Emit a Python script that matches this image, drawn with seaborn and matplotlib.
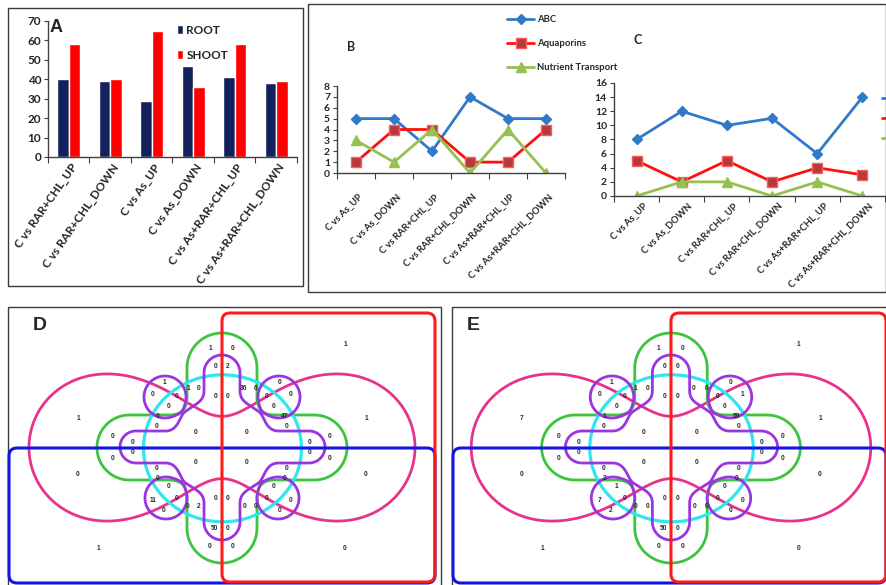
import numpy as np
import pandas as pd
import matplotlib
matplotlib.use("Agg")
import matplotlib.pyplot as plt
import matplotlib.transforms as mtransforms
from matplotlib.patches import Rectangle, FancyBboxPatch, Ellipse
from matplotlib.font_manager import FontProperties
import seaborn as sns

W, H = 887, 585

sns.set_theme(style="white")
plt.rcParams["font.family"] = ["Lato", "DejaVu Sans"]
NARROW = ["Liberation Sans Narrow", "Lato", "DejaVu Sans"]

# ---------------- data ----------------
bar_groups = ["C vs RAR+CHL_UP", "C vs RAR+CHL_DOWN", "C vs As_UP",
              "C vs As_DOWN", "C vs As+RAR+CHL_UP", "C vs As+RAR+CHL_DOWN"]
root_counts = [40, 39, 29, 47, 41, 38]
shoot_counts = [58, 40, 65, 36, 58, 39]

comparisons = ["C vs As_UP", "C vs As_DOWN", "C vs RAR+CHL_UP",
               "C vs RAR+CHL_DOWN", "C vs As+RAR+CHL_UP", "C vs As+RAR+CHL_DOWN"]
families = ["ABC", "Aquaporins", "Nutrient Transport"]
abc_b = [5, 5, 2, 7, 5, 5]
aqua_b = [1, 4, 4, 1, 1, 4]
nutr_b = [3, 1, 4, 0, 4, 0]
abc_c = [8, 12, 10, 11, 6, 14]
aqua_c = [5, 2, 5, 2, 4, 3]
nutr_c = [0, 2, 2, 0, 2, 0]

# counts of the 63 regions of the six-set diagrams
venn_d = [1, 0, 1, 0, 2, 1, 1, 0, 0, 0, 0, 0, 36, 6, 0, 0, 0, 0, 0, 0, 47,
          1, 1, 0, 0, 0, 0, 0, 0, 0, 0, 0, 0, 0, 0, 0, 0, 0, 0, 0, 0, 0,
          0, 0, 0, 11, 0, 0, 2, 0, 0, 0, 0, 0, 0, 0, 0, 50, 0, 0, 0, 1, 0]
venn_e = [1, 0, 1, 0, 0, 1, 1, 0, 0, 0, 0, 0, 0, 0, 0, 0, 1, 0, 0, 1, 50,
          7, 1, 0, 0, 0, 0, 0, 0, 0, 0, 0, 0, 0, 0, 0, 0, 0, 0, 0, 0, 2,
          0, 1, 0, 7, 0, 0, 0, 0, 0, 0, 0, 0, 0, 2, 0, 50, 0, 0, 0, 1, 0]

# label anchor of each region, relative to the diagram centre (pixels)
region_xy = [(-12, -99), (11, -99), (123, -102), (-6, -80), (6, -80),
             (-58, -64), (-34, -59), (-23, -59), (-69, -52), (-45, -51),
             (-6, -51), (6, -51), (22, -59), (34, -59), (58, -64),
             (45, -51), (69, -52), (-53, -40), (52, -40), (-64, -31),
             (63, -31), (-144, -28), (144, -28), (-65, -20), (65, -20),
             (-26, -14), (25, -14), (-109, -10), (-89, -5), (88, -5),
             (108, -10), (-89, 6), (-109, 11), (88, 6), (108, 11),
             (-26, 15), (25, 15), (-65, 21), (65, 21), (-144, 28),
             (144, 28), (-64, 32), (63, 32), (-53, 40), (52, 40),
             (-69, 53), (-45, 51), (-34, 60), (-23, 60), (-6, 52),
             (6, 52), (23, 60), (34, 60), (45, 51), (69, 53),
             (-58, 64), (58, 64), (-7, 81), (6, 81), (-12, 100),
             (11, 100), (-124, 102), (123, 102)]

# ---------------- figure ----------------
fig = plt.figure(figsize=(W / 100, H / 100), dpi=100)


def px_axes(x0, y0, x1, y1):
    return fig.add_axes([x0 / W, 1 - y1 / H, (x1 - x0) / W, (y1 - y0) / H])


def px_shift(dx, dy):
    return mtransforms.ScaledTranslation(dx / 100, -dy / 100, fig.dpi_scale_trans)


canvas = px_axes(0, 0, W, H)
canvas.set_xlim(0, W)
canvas.set_ylim(H, 0)
canvas.axis("off")

for x0, y0, x1, y1 in [(8, 8, 303, 286), (308, 4, 886, 292),
                       (8, 307, 441, 595), (452, 307, 895, 595)]:
    canvas.add_patch(Rectangle((x0, y0), x1 - x0, y1 - y0, fill=False,
                               edgecolor="#3a3a3a", linewidth=1.0, zorder=1))

AXIS = "#404040"

# ---------------- A: grouped bars ----------------
axA = px_axes(48, 21, 297, 157)
axA.patch.set_alpha(0)
dfA = pd.DataFrame({"comparison": bar_groups * 2,
                    "tissue": ["ROOT"] * 6 + ["SHOOT"] * 6,
                    "genes": root_counts + shoot_counts})
sns.barplot(data=dfA, x="comparison", y="genes", hue="tissue",
            palette={"ROOT": "#13215c", "SHOOT": "#ff0000"}, width=0.56,
            saturation=1, ax=axA)
axA.set_xlim(-0.5, 5.5)
axA.set_ylim(0, 70)
axA.set_yticks(range(0, 71, 10))
axA.set_xlabel("")
axA.set_ylabel("")
for s in ["top", "right"]:
    axA.spines[s].set_visible(False)
for s in ["left", "bottom"]:
    axA.spines[s].set_color(AXIS)
    axA.spines[s].set_linewidth(1.0)
axA.tick_params(axis="y", direction="out", length=3, width=0.8, color=AXIS,
                labelsize=8.5, pad=2, left=True)
axA.set_xticks(np.arange(-0.5, 6.0, 1.0), minor=True)
axA.tick_params(axis="x", which="minor", direction="out", length=4,
                width=0.8, color=AXIS, bottom=True)
axA.tick_params(axis="x", which="major", length=0, pad=3)
axA.set_xticks(range(6))
axA.set_xticklabels(bar_groups, rotation=55, ha="right", va="center",
                    rotation_mode="anchor", fontsize=8.5, fontweight="bold",
                    family=NARROW)
for lbl in axA.get_xticklabels():
    lbl.set_transform(lbl.get_transform() + px_shift(6, 4))
for lbl in axA.get_yticklabels():
    lbl.set_fontweight("bold")
    lbl.set_family(NARROW)
hA, lA = axA.get_legend_handles_labels()
axA.legend(hA, lA, loc="upper left", bbox_to_anchor=(177 / W, 1 - 25 / H),
           bbox_transform=fig.transFigure, frameon=False, handlelength=0.55,
           handleheight=0.8, handletextpad=0.25, labelspacing=1.15,
           borderpad=0, borderaxespad=0,
           prop=FontProperties(family=NARROW, weight="bold", size=8.5))
canvas.text(50, 28, "A", fontsize=13, fontweight="bold", va="center",
            family=["Liberation Sans", "DejaVu Sans"])

# ---------------- B and C: line charts ----------------
line_styles = {
    "ABC": dict(color="#2f7bc9", marker="D", markerfacecolor="#2f7bc9",
                markeredgecolor="#2f7bc9", markersize=5.5),
    "Aquaporins": dict(color="#ff1010", marker="s", markerfacecolor="#b53a3a",
                       markeredgecolor="#ff5a5a", markersize=6.5),
    "Nutrient Transport": dict(color="#95c150", marker="^",
                               markerfacecolor="#95c150",
                               markeredgecolor="#95c150", markersize=6.5),
}


def line_panel(ax, series, ymax, ystep, label_pad, label_dx):
    ax.patch.set_alpha(0)
    for fam, vals in zip(families, series):
        sns.lineplot(x=list(range(6)), y=vals, ax=ax, label=fam,
                     linewidth=2.0, markeredgewidth=1.0, **line_styles[fam])
    ax.set_xlim(-0.5, 5.5)
    ax.set_ylim(0, ymax)
    ax.set_yticks(range(0, ymax + 1, ystep))
    for s in ["top", "right"]:
        ax.spines[s].set_visible(False)
    for s in ["left", "bottom"]:
        ax.spines[s].set_color(AXIS)
        ax.spines[s].set_linewidth(1.0)
    ax.tick_params(axis="y", direction="out", length=3, width=0.8,
                   color=AXIS, labelsize=7.5, pad=2, left=True)
    ax.set_xticks(np.arange(-0.5, 6.0, 1.0), minor=True)
    ax.tick_params(axis="x", which="minor", direction="out", length=4,
                   width=0.8, color=AXIS, bottom=True)
    ax.tick_params(axis="x", which="major", length=0, pad=label_pad)
    ax.set_xticks(range(6))
    ax.set_xticklabels(comparisons, rotation=45, ha="right", va="center",
                       rotation_mode="anchor", fontsize=6.8,
                       fontweight="bold")
    for lbl in ax.get_xticklabels():
        lbl.set_transform(lbl.get_transform() + px_shift(label_dx, 0))
    for lbl in ax.get_yticklabels():
        lbl.set_fontweight("bold")


axB = px_axes(337, 86, 565, 173)
line_panel(axB, [abc_b, aqua_b, nutr_b], 8, 1, 16, 5)
hB, lB = axB.get_legend_handles_labels()
axB.legend(hB, lB, loc="upper left", bbox_to_anchor=(507 / W, 1 - 15 / H),
           bbox_transform=fig.transFigure, frameon=False, handlelength=2.9,
           handletextpad=0.25, labelspacing=1.6, borderpad=0,
           borderaxespad=0, prop=FontProperties(weight="bold", size=6.8))
canvas.text(347, 47, "B", fontsize=9, fontweight="bold", va="center")

axC = px_axes(614, 83, 885, 196)
line_panel(axC, [abc_c, aqua_c, nutr_c], 16, 2, 6, 9)
# the second key starts at the right border; only its line stubs show
hC, _ = axC.get_legend_handles_labels()
axC.legend(hC, [""] * len(hC), loc="upper left",
           bbox_to_anchor=(882 / W, 1 - 94 / H),
           bbox_transform=fig.transFigure, frameon=False, handlelength=2.9,
           handletextpad=0.25, labelspacing=1.2, borderpad=0,
           borderaxespad=0, prop=FontProperties(weight="bold", size=6.8))
canvas.text(634, 40, "C", fontsize=9, fontweight="bold", va="center")

# ---------------- D and E: six-set Venn diagrams ----------------
gx = np.arange(-235, 235.5, 0.5)
gy = np.arange(-155, 155.5, 0.5)
GX, GY = np.meshgrid(gx, gy)


def segment_sdf(x0, y0, x1, y1, r):
    vx, vy = x1 - x0, y1 - y0
    t = np.clip(((GX - x0) * vx + (GY - y0) * vy) / (vx * vx + vy * vy), 0, 1)
    return np.hypot(GX - x0 - t * vx, GY - y0 - t * vy) - r


def circle_sdf(x0, y0, r):
    return np.hypot(GX - x0, GY - y0) - r


def smooth_union(a, b, k):
    h = np.clip(0.5 + 0.5 * (b - a) / k, 0, 1)
    return b * (1 - h) + a * h - k * h * (1 - h)


# two-lobed set: Cassini oval
a2, b2 = 18174.5, 19074.5
yy = (GY - 0.5) / 1.04
peanut = ((GX ** 2 + yy ** 2) ** 2 - 2 * a2 * (GX ** 2 - yy ** 2)
          - (b2 ** 2 - a2 ** 2)) / a2 ** 2

# four-lobed set: rounded cross
green = smooth_union(segment_sdf(-92.5, 0.5, 92.5, 0.5, 32.5),
                     segment_sdf(0, -79, 0, 81, 35), 18)

# eight-lobed set: core with fingers and diagonal blobs
purple = circle_sdf(0, 0, 50)
for part in [segment_sdf(0, 0, 0, -74, 18), segment_sdf(0, 0, 0, 75, 18),
             segment_sdf(0, 0, -86, 0, 16), segment_sdf(0, 0, 87, 0, 16),
             circle_sdf(-57, -50, 21), circle_sdf(57, -50, 21),
             circle_sdf(-56, 51, 21), circle_sdf(56, 51, 21)]:
    purple = smooth_union(purple, part, 9)

PINK, GREEN, CYAN = "#e6338c", "#3cc43c", "#2ee6f0"
PURPLE, RED, BLUE = "#9a35e0", "#ff1a1a", "#1414e6"


def draw_venn(cx, sx, counts, left, right, letter, letter_x):
    cy = 447
    X = cx + sx * GX
    Y = cy + GY
    canvas.contour(X, Y, peanut, levels=[0], colors=[PINK],
                   linewidths=2.0, zorder=2)
    canvas.contour(X, Y, green, levels=[0], colors=[GREEN],
                   linewidths=2.0, zorder=3)
    canvas.add_patch(Ellipse((cx + 0.5 * sx, cy + 1.3), 2 * 79 * sx, 2 * 73.5,
                             fill=False, edgecolor=CYAN, linewidth=2.3,
                             zorder=4))
    canvas.contour(X, Y, purple, levels=[0], colors=[PURPLE],
                   linewidths=2.0, zorder=5)
    canvas.add_patch(FancyBboxPatch((left, 448), right - left, 135,
                                    boxstyle="round,pad=0,rounding_size=8",
                                    fill=False, edgecolor=BLUE,
                                    linewidth=2.2, zorder=6))
    canvas.add_patch(FancyBboxPatch((cx, 313), right - cx, 269,
                                    boxstyle="round,pad=0,rounding_size=8",
                                    fill=False, edgecolor=RED,
                                    linewidth=2.2, zorder=7))
    for (dx, dy), n in zip(region_xy, counts):
        canvas.text(cx + sx * dx, cy + dy, str(n), fontsize=4.8,
                    fontweight="bold", ha="center", va="center",
                    color="#2a2a2a", zorder=8,
                    family=["Liberation Sans", "DejaVu Sans"])
    canvas.text(letter_x, 325, letter, fontsize=14, fontweight="bold",
                va="center", family=["Liberation Sans", "DejaVu Sans"])


draw_venn(222, 1.0, venn_d, 9, 435, "D", 33)
draw_venn(671, 1.035, venn_e, 453, 886, "E", 467)

fig.savefig("out.png", dpi=100)
